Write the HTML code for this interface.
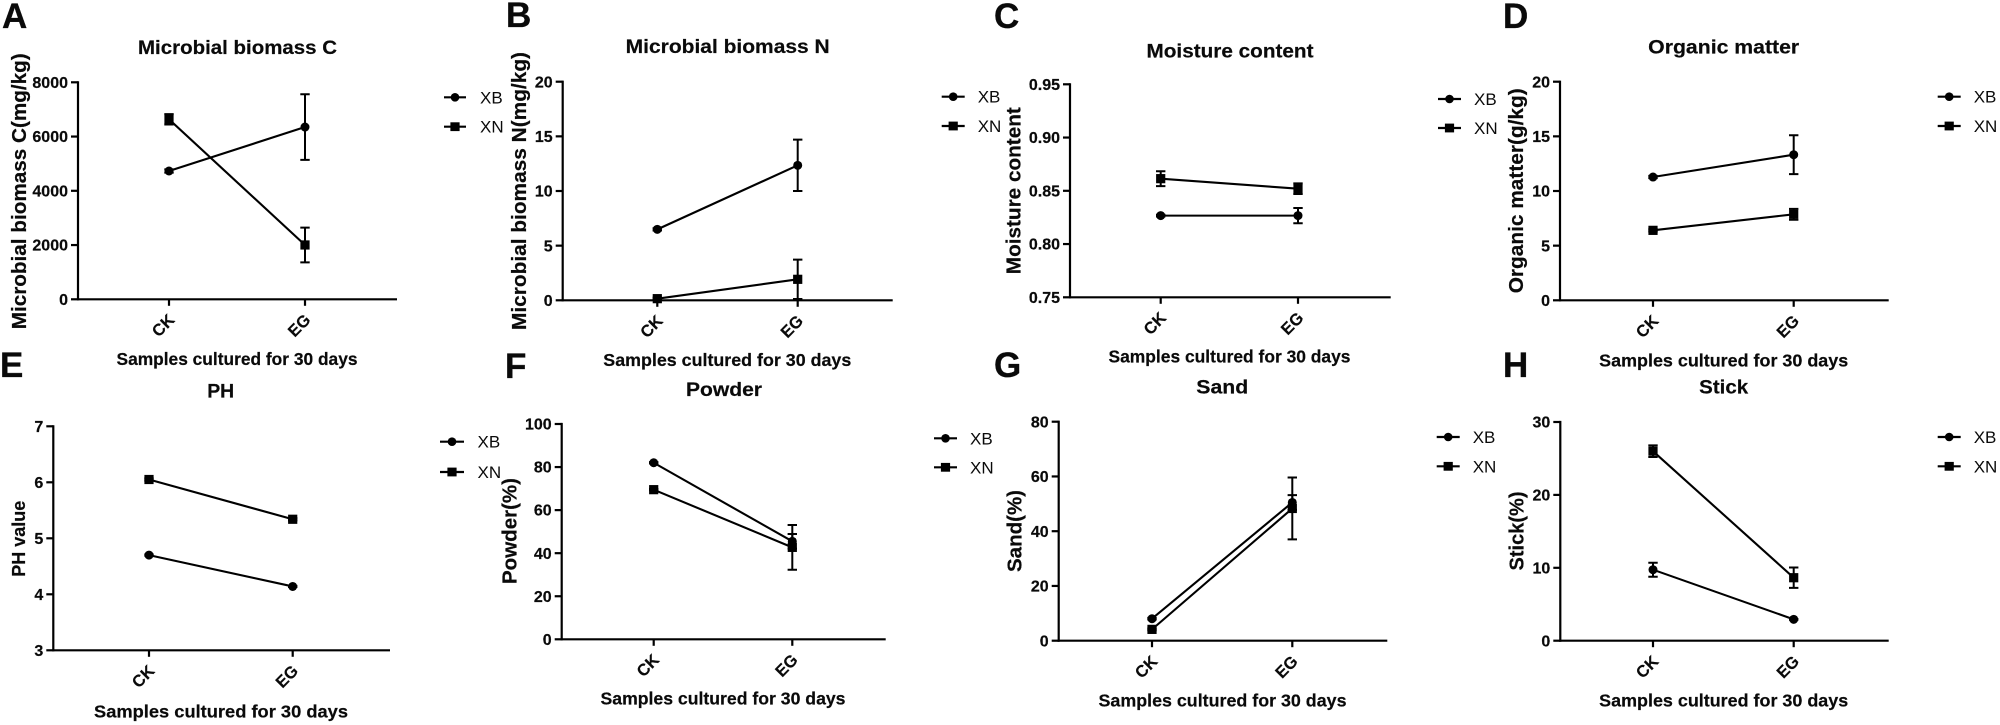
<!DOCTYPE html>
<html lang="en">
<head>
<meta charset="utf-8">
<title>Soil properties panels A-H</title>
<style>
html,body{margin:0;padding:0;background:#fff;width:2000px;height:725px;overflow:hidden}
svg{display:block;filter:blur(0.35px)}
text{font-family:"Liberation Sans",Arial,sans-serif;fill:#0a0a0a}
.letter{font-size:35px;font-weight:700;stroke:#0a0a0a;stroke-width:.3px}
.title{font-size:19.5px;font-weight:700;text-anchor:middle;stroke:#0a0a0a;stroke-width:.2px}
.ytitle{font-size:20px;font-weight:700;text-anchor:middle;stroke:#0a0a0a;stroke-width:.2px}
.xtitle{font-size:17.5px;font-weight:700;text-anchor:middle;stroke:#0a0a0a;stroke-width:.2px}
.tick{font-size:16px;font-weight:700;text-anchor:end;stroke:#0a0a0a;stroke-width:.2px}
.cat{font-size:16.5px;font-weight:700;text-anchor:middle;stroke:#0a0a0a;stroke-width:.15px}
.leg{font-size:17px;font-weight:400}
.legline{stroke:#000;stroke-width:2.2}
</style>
</head>
<body>
<svg id="fig" width="2000" height="725" viewBox="0 0 2000 725" xmlns="http://www.w3.org/2000/svg">

<g id="panel-a">
  <text class="letter" x="2" y="28">A</text>
  <text class="title" x="237.5" y="54" textLength="199" lengthAdjust="spacingAndGlyphs">Microbial biomass C</text>
  <text class="ytitle" transform="translate(26,191.3) rotate(-90)" textLength="276" lengthAdjust="spacingAndGlyphs">Microbial biomass C(mg/kg)</text>
  <text class="xtitle" x="237" y="365" textLength="241" lengthAdjust="spacingAndGlyphs">Samples cultured for 30 days</text>
  <g transform="translate(444,97.3)"><line class="legline" x1="0" x2="22" y1="0" y2="0"/><circle cx="11" cy="0" r="4.3"/><text class="leg" x="36" y="6">XB</text></g>
  <g transform="translate(444,126.7)"><line class="legline" x1="0" x2="22" y1="0" y2="0"/><rect x="6.4" y="-4.4" width="9.2" height="8.8"/><text class="leg" x="36" y="6">XN</text></g>
</g>

<g id="panel-b">
  <text class="letter" x="506" y="27">B</text>
  <text class="title" x="727.7" y="53" textLength="204" lengthAdjust="spacingAndGlyphs">Microbial biomass N</text>
  <text class="ytitle" transform="translate(526,191) rotate(-90)" textLength="278" lengthAdjust="spacingAndGlyphs">Microbial biomass N(mg/kg)</text>
  <text class="xtitle" x="727.3" y="366" textLength="248" lengthAdjust="spacingAndGlyphs">Samples cultured for 30 days</text>
  <g transform="translate(941.7,96.7)"><line class="legline" x1="0" x2="23" y1="0" y2="0"/><circle cx="11.5" cy="0" r="4.3"/><text class="leg" x="36" y="6">XB</text></g>
  <g transform="translate(941.7,126)"><line class="legline" x1="0" x2="23" y1="0" y2="0"/><rect x="6.9" y="-4.4" width="9.2" height="8.8"/><text class="leg" x="36" y="6">XN</text></g>
</g>

<g id="panel-c">
  <text class="letter" x="994" y="28">C</text>
  <text class="title" x="1230" y="57.3" textLength="167" lengthAdjust="spacingAndGlyphs">Moisture content</text>
  <text class="ytitle" transform="translate(1020.7,190.7) rotate(-90)" textLength="167" lengthAdjust="spacingAndGlyphs">Moisture content</text>
  <text class="xtitle" x="1229.5" y="362.7" textLength="242" lengthAdjust="spacingAndGlyphs">Samples cultured for 30 days</text>
  <g transform="translate(1438,99)"><line class="legline" x1="0" x2="23" y1="0" y2="0"/><circle cx="11.5" cy="0" r="4.3"/><text class="leg" x="36" y="6">XB</text></g>
  <g transform="translate(1438,128)"><line class="legline" x1="0" x2="23" y1="0" y2="0"/><rect x="6.9" y="-4.4" width="9.2" height="8.8"/><text class="leg" x="36" y="6">XN</text></g>
</g>

<g id="panel-d">
  <text class="letter" x="1503" y="28">D</text>
  <text class="title" x="1723.7" y="53.3" textLength="151" lengthAdjust="spacingAndGlyphs">Organic matter</text>
  <text class="ytitle" transform="translate(1523,190.8) rotate(-90)" textLength="205" lengthAdjust="spacingAndGlyphs">Organic matter(g/kg)</text>
  <text class="xtitle" x="1723.7" y="366.7" textLength="249" lengthAdjust="spacingAndGlyphs">Samples cultured for 30 days</text>
  <g transform="translate(1937.7,96.7)"><line class="legline" x1="0" x2="23" y1="0" y2="0"/><circle cx="11.5" cy="0" r="4.3"/><text class="leg" x="36" y="6">XB</text></g>
  <g transform="translate(1937.7,126)"><line class="legline" x1="0" x2="23" y1="0" y2="0"/><rect x="6.9" y="-4.4" width="9.2" height="8.8"/><text class="leg" x="36" y="6">XN</text></g>
</g>

<g id="panel-e">
  <text class="letter" x="0" y="377">E</text>
  <text class="title" x="220.7" y="397.7" textLength="27" lengthAdjust="spacingAndGlyphs">PH</text>
  <text class="ytitle" style="font-size:18px" transform="translate(25,538.7) rotate(-90)" textLength="76" lengthAdjust="spacingAndGlyphs">PH value</text>
  <text class="xtitle" x="221" y="717.7" textLength="254" lengthAdjust="spacingAndGlyphs">Samples cultured for 30 days</text>
  <g transform="translate(440,441.7)"><line class="legline" x1="0" x2="24" y1="0" y2="0"/><circle cx="12" cy="0" r="4.3"/><text class="leg" x="37.5" y="6">XB</text></g>
  <g transform="translate(440,472)"><line class="legline" x1="0" x2="24" y1="0" y2="0"/><rect x="7.4" y="-4.4" width="9.2" height="8.8"/><text class="leg" x="37.5" y="6">XN</text></g>
</g>

<g id="panel-f">
  <text class="letter" x="505" y="378">F</text>
  <text class="title" x="724" y="396" textLength="76" lengthAdjust="spacingAndGlyphs">Powder</text>
  <text class="ytitle" transform="translate(516.7,531) rotate(-90)" textLength="106" lengthAdjust="spacingAndGlyphs">Powder(%)</text>
  <text class="xtitle" x="723" y="704.3" textLength="245" lengthAdjust="spacingAndGlyphs">Samples cultured for 30 days</text>
  <g transform="translate(934,438.3)"><line class="legline" x1="0" x2="23" y1="0" y2="0"/><circle cx="11.5" cy="0" r="4.3"/><text class="leg" x="36" y="6">XB</text></g>
  <g transform="translate(934,467.3)"><line class="legline" x1="0" x2="23" y1="0" y2="0"/><rect x="6.9" y="-4.4" width="9.2" height="8.8"/><text class="leg" x="36" y="6">XN</text></g>
</g>

<g id="panel-g">
  <text class="letter" x="994" y="377">G</text>
  <text class="title" x="1222.3" y="393.3" textLength="52" lengthAdjust="spacingAndGlyphs">Sand</text>
  <text class="ytitle" transform="translate(1021.7,531) rotate(-90)" textLength="82" lengthAdjust="spacingAndGlyphs">Sand(%)</text>
  <text class="xtitle" x="1222.5" y="706.7" textLength="248" lengthAdjust="spacingAndGlyphs">Samples cultured for 30 days</text>
  <g transform="translate(1436.7,437)"><line class="legline" x1="0" x2="23" y1="0" y2="0"/><circle cx="11.5" cy="0" r="4.3"/><text class="leg" x="36" y="6">XB</text></g>
  <g transform="translate(1436.7,466.3)"><line class="legline" x1="0" x2="23" y1="0" y2="0"/><rect x="6.9" y="-4.4" width="9.2" height="8.8"/><text class="leg" x="36" y="6">XN</text></g>
</g>

<g id="panel-h">
  <text class="letter" x="1503" y="377">H</text>
  <text class="title" x="1723.7" y="393.3" textLength="49" lengthAdjust="spacingAndGlyphs">Stick</text>
  <text class="ytitle" transform="translate(1523.3,531) rotate(-90)" textLength="79" lengthAdjust="spacingAndGlyphs">Stick(%)</text>
  <text class="xtitle" x="1723.7" y="706.7" textLength="249" lengthAdjust="spacingAndGlyphs">Samples cultured for 30 days</text>
  <g transform="translate(1937.7,437)"><line class="legline" x1="0" x2="23" y1="0" y2="0"/><circle cx="11.5" cy="0" r="4.3"/><text class="leg" x="36" y="6">XB</text></g>
  <g transform="translate(1937.7,466.3)"><line class="legline" x1="0" x2="23" y1="0" y2="0"/><rect x="6.9" y="-4.4" width="9.2" height="8.8"/><text class="leg" x="36" y="6">XN</text></g>
</g>
</svg>

<script>
// Shared categories
const categories = ['CK', 'EG'];

// Tick labels per panel
const ticksA = ['0', '2000', '4000', '6000', '8000'];
const ticksB = ['0', '5', '10', '15', '20'];
const ticksC = ['0.75', '0.80', '0.85', '0.90', '0.95'];
const ticksD = ['0', '5', '10', '15', '20'];
const ticksE = ['3', '4', '5', '6', '7'];
const ticksF = ['0', '20', '40', '60', '80', '100'];
const ticksG = ['0', '20', '40', '60', '80'];
const ticksH = ['0', '10', '20', '30'];

// Series means and error half-widths per panel (CK, EG)
const xbA = [4730, 6350];
const xbErrA = [60, 1210];
const xnA = [6636, 2003];
const xnErrA = [190, 640];

const xbB = [6.49, 12.35];
const xbErrB = [0.1, 2.35];
const xnB = [0.15, 1.92];
const xnErrB = [0.1, 1.8];

const xbC = [0.8267, 0.8267];
const xbErrC = [0.0008, 0.0072];
const xnC = [0.8614, 0.852];
const xnErrC = [0.007, 0.005];

const xbD = [11.28, 13.32];
const xbErrD = [0.1, 1.78];
const xnD = [6.4, 7.87];
const xnErrD = [0.1, 0.5];

const xbE = [4.7, 4.14];
const xbErrE = [0.01, 0.01];
const xnE = [6.05, 5.34];
const xnErrE = [0.02, 0.02];

const xbF = [82.0, 45.5];
const xbErrF = [0.3, 3.4];
const xnF = [69.5, 42.7];
const xnErrF = [0.3, 10.4];

const xbG = [8.04, 50.5];
const xbErrG = [0.3, 2.7];
const xnG = [4.14, 48.3];
const xnErrG = [0.3, 11.3];

const xbH = [9.74, 2.93];
const xbErrH = [0.96, 0.05];
const xnH = [26.0, 8.64];
const xnErrH = [0.8, 1.4];

// Panel frame geometry
const frames = {
  a: {left: 78, top: 82.3, bottom: 299.3, right: 397, ck: 169, eg: 305},
  b: {left: 562.7, top: 81.7, bottom: 300.3, right: 892.7, ck: 657.3, eg: 797.7},
  c: {left: 1070, top: 84.3, bottom: 297.3, right: 1390.7, ck: 1160.7, eg: 1298},
  d: {left: 1560, top: 81.7, bottom: 300.3, right: 1888.7, ck: 1653, eg: 1793.7},
  e: {left: 53.3, top: 426.3, bottom: 650.3, right: 390, ck: 149, eg: 292.7},
  f: {left: 561.7, top: 424, bottom: 639.3, right: 885.7, ck: 653.7, eg: 792.3},
  g: {left: 1058.7, top: 421.7, bottom: 640.7, right: 1387.3, ck: 1152, eg: 1292.3},
  h: {left: 1560.3, top: 422, bottom: 640.7, right: 1888.7, ck: 1653, eg: 1793.7}
};

const SVGNS = 'http://www.w3.org/2000/svg';

function mk(tag, attrs, parent) {
  const node = document.createElementNS(SVGNS, tag);
  for (const key in attrs) node.setAttribute(key, attrs[key]);
  parent.appendChild(node);
  return node;
}

function yScale(frame, ticks) {
  const lo = Number(ticks[0]);
  const hi = Number(ticks[ticks.length - 1]);
  return function (v) {
    return frame.bottom - (v - lo) / (hi - lo) * (frame.bottom - frame.top);
  };
}

function xScale(frame) {
  return function (i) {
    return frame.ck + i * (frame.eg - frame.ck);
  };
}

function drawAxes(id, frame, ticks, y, x) {
  const g = document.getElementById('panel-' + id);
  const yAxis = mk('line', {x1: frame.left, x2: frame.left, y1: frame.top - 1.1, y2: frame.bottom + 1.1, stroke: '#000', 'stroke-width': 2.2}, g);
  
  
  const xAxis = mk('line', {x1: frame.left - 1, x2: frame.right, y1: frame.bottom, y2: frame.bottom, stroke: '#000', 'stroke-width': 2.2}, g);
  
  
  ticks.forEach(function (label) {
    const py = y(Number(label));
    const mark = mk('line', {x1: frame.left - 7, x2: frame.left, y1: py, y2: py, stroke: '#000', 'stroke-width': 2.2}, g);
    
    
    const text = mk('text', {'class': 'tick', x: frame.left - 10, y: py + 5.6}, g);
    
    
    text.textContent = label;
  });
  categories.forEach(function (cat, i) {
    const px = x(i);
    const mark = mk('line', {x1: px, x2: px, y1: frame.bottom, y2: frame.bottom + 6.5, stroke: '#000', 'stroke-width': 2.2}, g);
    
    
    const text = mk('text', {'class': 'cat', y: 5.8, transform: 'translate(' + (px - 6) + ',' + (frame.bottom + 26) + ') rotate(-45)'}, g);
    
    
    text.textContent = cat;
  });
}

function drawSeries(id, name, values, errors, shape, y, x) {
  const g = document.getElementById('panel-' + id);
  const group = mk('g', {}, g);
  
  
  values.forEach(function (v, i) {
    const px = x(i);
    const hi = y(v + errors[i]);
    const lo = y(v - errors[i]);
    const bar = mk('path', {d: 'M' + (px - 4.7) + ' ' + hi + 'H' + (px + 4.7) + 'M' + px + ' ' + hi + 'V' + lo + 'M' + (px - 4.7) + ' ' + lo + 'H' + (px + 4.7), stroke: '#000', 'stroke-width': 2, fill: 'none'}, group);
    
    
  });
  const line = mk('line', {x1: x(0), y1: y(values[0]), x2: x(1), y2: y(values[1]), stroke: '#000', 'stroke-width': 2.1}, group);
  
  
  values.forEach(function (v, i) {
    const px = x(i);
    const py = y(v);
    const point = shape === 'circle'
      ? mk('circle', {cx: px, cy: py, r: 4.5, fill: '#000'}, group)
      : mk('rect', {x: px - 4.6, y: py - 4.6, width: 9.2, height: 9.2, fill: '#000'}, group);
    
    
  });
}

function drawPanel(id, ticks, xb, xbErr, xn, xnErr) {
  const frame = frames[id];
  const y = yScale(frame, ticks);
  const x = xScale(frame);
  drawAxes(id, frame, ticks, y, x);
  drawSeries(id, 'xb', xb, xbErr, 'circle', y, x);
  drawSeries(id, 'xn', xn, xnErr, 'square', y, x);
}

drawPanel('a', ticksA, xbA, xbErrA, xnA, xnErrA);
drawPanel('b', ticksB, xbB, xbErrB, xnB, xnErrB);
drawPanel('c', ticksC, xbC, xbErrC, xnC, xnErrC);
drawPanel('d', ticksD, xbD, xbErrD, xnD, xnErrD);
drawPanel('e', ticksE, xbE, xbErrE, xnE, xnErrE);
drawPanel('f', ticksF, xbF, xbErrF, xnF, xnErrF);
drawPanel('g', ticksG, xbG, xbErrG, xnG, xnErrG);
drawPanel('h', ticksH, xbH, xbErrH, xnH, xnErrH);
</script>
</body>
</html>
